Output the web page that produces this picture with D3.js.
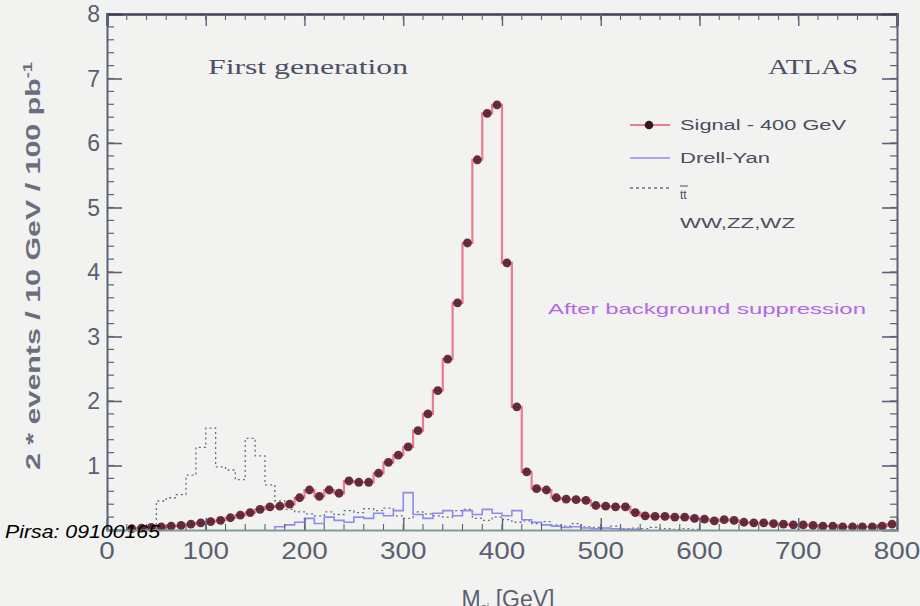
<!DOCTYPE html>
<html><head><meta charset="utf-8">
<script src="https://cdn.jsdelivr.net/npm/d3@7/dist/d3.min.js"></script>
<style>
html,body{margin:0;padding:0;background:#f2f2f0;}
svg{display:block;}
</style></head>
<body>
<svg id="chart" width="920" height="606"></svg>
<script>
// ---------- data ----------
const binWidth = 10;
const signalStart = 20;   // low edge of first signal bin (GeV)
const signalValues = [
 0.02,0.03,0.04,0.05,0.06,0.07,0.09,0.11,0.13,0.15,
 0.19,0.23,0.27,0.32,0.36,0.37,0.40,0.50,0.62,0.52,
 0.62,0.57,0.76,0.74,0.74,0.88,1.05,1.16,1.29,1.54,
 1.80,2.16,2.65,3.52,4.45,5.74,6.46,6.59,
 4.14,1.91,0.90,0.64,0.62,0.50,0.48,0.47,0.46,0.38,
 0.37,0.36,0.36,0.27,0.22,0.21,0.21,0.20,0.20,0.18,
 0.17,0.14,0.16,0.15,0.12,0.11,0.11,0.10,0.09,0.08,
 0.08,0.07,0.06,0.06,0.05,0.05,0.05,0.05,0.06,0.09];
const ttStart = 50;
const ttValues = [
 0.45,0.50,0.55,0.85,1.28,1.58,0.98,0.93,0.78,1.42,
 1.15,0.70,0.45,0.32,0.28,0.25,0.22,0.28,0.24,0.30,
 0.27,0.33,0.30,0.34,0.22,0.18,0.28,0.25,0.22,0.20,
 0.30,0.32,0.18,0.15,0.20,0.16,0.12,0.14,0.10,0.13,
 0.08,0.06,0.10,0.05,0.04,0.03,0.06,0.02,0.03,0.02,
 0.04,0.02,0.01,0.02,0.01];
const dyStart = 170;
const dyValues = [
 0.05,0.08,0.12,0.18,0.10,0.20,0.15,0.12,0.20,0.18,
 0.26,0.22,0.30,0.58,0.24,0.18,0.26,0.30,0.22,0.30,
 0.24,0.32,0.26,0.22,0.30,0.16,0.12,0.08,0.06,0.04,
 0.05,0.03,0.02,0.03,0.02,0.01,0.01];
const xTicks = [0,100,200,300,400,500,600,700,800];
const yTicks = [0,1,2,3,4,5,6,7,8];
const yTickLabels = [1,2,3,4,5,6,7,8];
const legendItems = ["Signal - 400 GeV","Drell-Yan","tt","WW,ZZ,WZ"];

// ---------- layout ----------
const svg = d3.select("#chart");
const L = 107, R = 897, T = 14, B = 530;
const x = d3.scaleLinear().domain([0,800]).range([L,R]);
const y = d3.scaleLinear().domain([0,8]).range([B,T]);
const axisCol = "#5d6179";
const labelCol = "#5b5f70";

svg.append("rect").attr("width",920).attr("height",606).attr("fill","#f2f2f0");

function histPoints(start, vals){
  const pts = [];
  vals.forEach((v,i)=>{ const lo = start + i*binWidth; pts.push([lo, v]); });
  pts.push([start + vals.length*binWidth, vals[vals.length-1]]);
  return pts;
}
function histPath(start, vals, closeToZero){
  let pts = histPoints(start, vals);
  if (closeToZero){
    pts = [[start,0]].concat(pts).concat([[start+vals.length*binWidth,0]]);
  }
  return d3.line().x(d=>x(d[0])).y(d=>y(d[1])).curve(d3.curveStepAfter)(pts);
}

// tt / diboson dotted
svg.append("path").attr("d", histPath(ttStart, ttValues, true))
  .attr("fill","none").attr("stroke","#6a6d80").attr("stroke-width",1.3)
  .attr("stroke-dasharray","2,3");
// Drell-Yan
svg.append("path").attr("d", histPath(dyStart, dyValues, true))
  .attr("fill","none").attr("stroke","#8c8cf0").attr("stroke-width",1.6);
// signal
svg.append("path").attr("d", histPath(signalStart, signalValues, false))
  .attr("fill","none").attr("stroke","#ec7a90").attr("stroke-width",2.2);
svg.append("g").selectAll("circle").data(signalValues).join("circle")
  .attr("cx",(d,i)=>x(signalStart + (i+0.5)*binWidth))
  .attr("cy",d=>y(d)).attr("r",4.4).attr("fill","#5a1d2e").attr("opacity",0.92);

// ---------- axes / frame ----------
const frame = svg.append("g");
const yMinor = d3.range(0,8.001,0.2);
const xMinor = d3.range(0,800.1,20);
function minorY(g, xpos, dir){
  g.selectAll(null).data(yMinor).join("line")
    .attr("x1",xpos).attr("x2",xpos+dir*7).attr("y1",d=>y(d)).attr("y2",d=>y(d))
    .attr("stroke",axisCol).attr("stroke-width",1.2);
}
function minorX(g, ypos, dir){
  g.selectAll(null).data(xMinor).join("line")
    .attr("y1",ypos).attr("y2",ypos+dir*6).attr("x1",d=>x(d)).attr("x2",d=>x(d))
    .attr("stroke",axisCol).attr("stroke-width",1.1);
}
const gl = frame.append("g").attr("transform",`translate(${L},0)`)
  .call(d3.axisLeft(y).tickValues(yTicks).tickSize(-15).tickFormat(""));
gl.selectAll("line").attr("stroke",axisCol).attr("stroke-width",1.6);
gl.select(".domain").attr("stroke",axisCol).attr("stroke-width",2);
minorY(frame.append("g"), L, 1);
const gr = frame.append("g").attr("transform",`translate(${R},0)`)
  .call(d3.axisRight(y).tickValues(yTicks).tickSize(-15).tickFormat(""));
gr.selectAll("line").attr("stroke",axisCol).attr("stroke-width",1.6);
gr.select(".domain").attr("stroke",axisCol).attr("stroke-width",2);
minorY(frame.append("g"), R, -1);
const gt = frame.append("g").attr("transform",`translate(0,${T})`)
  .call(d3.axisTop(x).tickValues(xTicks).tickSize(-12).tickFormat(""));
gt.selectAll("line").attr("stroke",axisCol).attr("stroke-width",1.4);
gt.select(".domain").attr("stroke","#3c3f55").attr("stroke-width",2.4);
minorX(frame.append("g"), T, 1);
const gb = frame.append("g").attr("transform",`translate(0,${B})`)
  .call(d3.axisBottom(x).tickValues(xTicks).tickSize(-12).tickFormat(""));
gb.selectAll("line").attr("stroke",axisCol).attr("stroke-width",1.4);
gb.select(".domain").attr("stroke","#7f9a98").attr("stroke-width",2);
minorX(frame.append("g"), B, -1);

// tick labels
svg.append("g").selectAll("text").data(yTickLabels).join("text")
  .attr("x",L-7).attr("y",d=>y(d)+8).attr("text-anchor","end")
  .attr("font-family","Liberation Sans, Arial, sans-serif").attr("font-size",23)
  .attr("fill",labelCol).text(d=>d);
svg.append("g").selectAll("text").data(xTicks).join("text")
  .attr("x",d=>x(d)).attr("y",559).attr("text-anchor","middle")
  .attr("font-family","Liberation Sans, Arial, sans-serif").attr("font-size",24)
  .attr("fill",labelCol)
  .attr("textLength",d=>String(d).length*15.5).attr("lengthAdjust","spacingAndGlyphs")
  .text(d=>d);

// axis titles
const yt = svg.append("text")
  .attr("transform","translate(40,266) rotate(-90)")
  .attr("text-anchor","middle")
  .attr("font-family","Liberation Sans, Arial, sans-serif").attr("font-size",20)
  .attr("font-weight","bold").attr("fill","#6a6e80")
  .attr("textLength",408).attr("lengthAdjust","spacingAndGlyphs");
yt.append("tspan").text("2 * events / 10 GeV / 100 pb");
yt.append("tspan").attr("dy",-8).attr("font-size",12).text("-1");

const xt = svg.append("text").attr("x",508).attr("y",607).attr("text-anchor","middle")
  .attr("font-family","Liberation Sans, Arial, sans-serif").attr("font-size",23)
  .attr("fill",labelCol);
xt.append("tspan").text("M");
xt.append("tspan").attr("dy",4).attr("font-size",11).text("ej");
xt.append("tspan").attr("dy",-4).text(" [GeV]");

// annotations
svg.append("text").attr("x",208).attr("y",74)
  .attr("font-family","Liberation Serif, Times New Roman, serif").attr("font-size",21)
  .attr("fill","#4c5066").attr("textLength",200).attr("lengthAdjust","spacingAndGlyphs")
  .text("First generation");
svg.append("text").attr("x",768).attr("y",74)
  .attr("font-family","Liberation Serif, Times New Roman, serif").attr("font-size",21)
  .attr("fill","#4c5066").attr("textLength",90).attr("lengthAdjust","spacingAndGlyphs")
  .text("ATLAS");
svg.append("text").attr("x",548).attr("y",314)
  .attr("font-family","Liberation Sans, Arial, sans-serif").attr("font-size",15)
  .attr("fill","#b468e6").attr("textLength",318).attr("lengthAdjust","spacingAndGlyphs")
  .text("After background suppression");

// legend
const lg = svg.append("g").attr("font-family","Liberation Sans, Arial, sans-serif")
  .attr("fill","#4a4d60");
lg.append("line").attr("x1",630).attr("x2",670).attr("y1",125).attr("y2",125)
  .attr("stroke","#ec7a90").attr("stroke-width",2);
lg.append("circle").attr("cx",649).attr("cy",125).attr("r",4.3).attr("fill","#3a1520");
lg.append("text").attr("x",680).attr("y",130).attr("font-size",14)
  .attr("textLength",166).attr("lengthAdjust","spacingAndGlyphs").text(legendItems[0]);
lg.append("line").attr("x1",630).attr("x2",670).attr("y1",158).attr("y2",158)
  .attr("stroke","#8c8cf0").attr("stroke-width",1.6);
lg.append("text").attr("x",680).attr("y",163).attr("font-size",14)
  .attr("textLength",90).attr("lengthAdjust","spacingAndGlyphs").text(legendItems[1]);
lg.append("line").attr("x1",630).attr("x2",670).attr("y1",188).attr("y2",188)
  .attr("stroke","#6a6d80").attr("stroke-width",1.3).attr("stroke-dasharray","3,3");
lg.append("text").attr("x",680).attr("y",199).attr("font-size",12).text(legendItems[2]);
lg.append("line").attr("x1",680).attr("x2",688).attr("y1",186).attr("y2",186)
  .attr("stroke","#4a4d60").attr("stroke-width",1);
lg.append("text").attr("x",680).attr("y",228).attr("font-size",14)
  .attr("textLength",115).attr("lengthAdjust","spacingAndGlyphs").text(legendItems[3]);

// overlay caption
svg.append("text").attr("x",5).attr("y",538)
  .attr("font-family","Liberation Sans, Arial, sans-serif").attr("font-size",19)
  .attr("font-style","italic").attr("fill","#000")
  .attr("textLength",155).attr("lengthAdjust","spacingAndGlyphs").text("Pirsa: 09100165");
</script>
</body></html>
